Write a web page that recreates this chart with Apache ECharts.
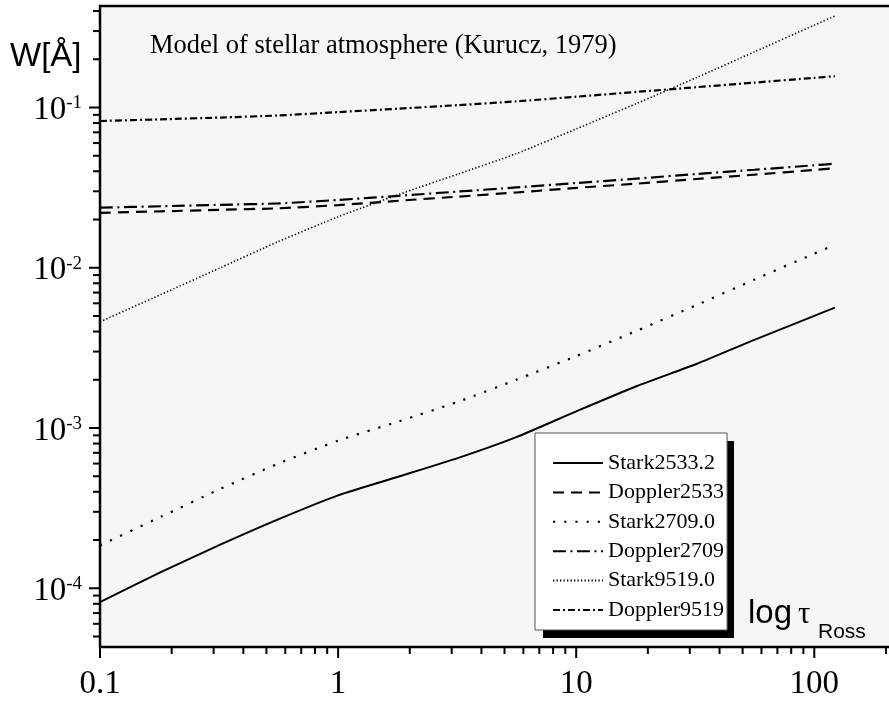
<!DOCTYPE html>
<html>
<head>
<meta charset="utf-8">
<script src="https://cdn.jsdelivr.net/npm/echarts@6/dist/echarts.min.js"></script>
<style>
html,body{margin:0;padding:0;background:#fff;}
#chart{width:889px;height:703px;}
</style>
</head>
<body>
<div id="chart"></div>
<script>
// ---- data ----
const X_VALUES = [0.1, 0.18, 0.32, 0.56, 1, 1.8, 3.2, 5.6, 10, 18, 32, 56, 100, 122];
const STARK_2533 = [8.2e-5, 1.26e-4, 1.87e-4, 2.69e-4, 3.8e-4, 4.98e-4, 6.51e-4, 8.77e-4, 1.27e-3, 1.83e-3, 2.51e-3, 3.55e-3, 5.01e-3, 5.64e-3];
const DOPPLER_2533 = [0.0220, 0.0225, 0.0230, 0.0235, 0.0246, 0.0262, 0.0278, 0.0295, 0.0315, 0.0335, 0.0358, 0.0381, 0.0408, 0.0418];
const STARK_2709 = [1.85e-4, 2.79e-4, 4.17e-4, 5.99e-4, 8.34e-4, 1.10e-3, 1.46e-3, 2.00e-3, 2.81e-3, 4.05e-3, 5.85e-3, 8.43e-3, 0.01225, 0.0139];
const DOPPLER_2709 = [0.0237, 0.0242, 0.0247, 0.0252, 0.0265, 0.0281, 0.0299, 0.0317, 0.0338, 0.0360, 0.0385, 0.0409, 0.0436, 0.0446];
const STARK_9519 = [0.0046, 0.0068, 0.0100, 0.01455, 0.0208, 0.0287, 0.0385, 0.0515, 0.0735, 0.1062, 0.1537, 0.2224, 0.3265, 0.372];
const DOPPLER_9519 = [0.0824, 0.0844, 0.0866, 0.0892, 0.0936, 0.0984, 0.1035, 0.1092, 0.1168, 0.1252, 0.1339, 0.1430, 0.1532, 0.1568];

const SERIES_NAMES = ['Stark2533.2', 'Doppler2533', 'Stark2709.0', 'Doppler2709', 'Stark9519.0', 'Doppler9519'];

const X_MIN = 0.1, X_MAX = 210;
const Y_MIN = 4.3e-5, Y_MAX = 0.43;
const X_MAJOR_TICKS = [0.1, 1, 10, 100];
const X_MINOR_TICKS = [0.2,0.3,0.4,0.5,0.6,0.7,0.8,0.9, 2,3,4,5,6,7,8,9, 20,30,40,50,60,70,80,90, 200];
const Y_MAJOR_TICKS = [1e-4, 1e-3, 1e-2, 1e-1];
const Y_MINOR_TICKS = [5e-5,6e-5,7e-5,8e-5,9e-5, 2e-4,3e-4,4e-4,5e-4,6e-4,7e-4,8e-4,9e-4,
  2e-3,3e-3,4e-3,5e-3,6e-3,7e-3,8e-3,9e-3, 2e-2,3e-2,4e-2,5e-2,6e-2,7e-2,8e-2,9e-2, 0.2,0.3,0.4];

// ---- helpers ----
function isPow10(v){ const l = Math.log10(v); return Math.abs(l - Math.round(l)) < 0.01; }
function pairs(ys){ return X_VALUES.map((x,i)=>[x, ys[i]]); }

function lineSeries(name, ys, dash, width){
  return {
    type:'line', name:name, data:pairs(ys), symbol:'none', showSymbol:false,
    smooth:0.2, animation:false, silent:true,
    lineStyle:{color:'#000', width:width, type:dash, cap:'butt'},
    itemStyle:{color:'#000', opacity:0}
  };
}
function tickSeries(values, axis, len){
  return {
    type:'custom', coordinateSystem:'cartesian2d', silent:true, clip:false, z:10, animation:false,
    data: values.map(v => axis === 'x' ? [v, Y_MIN] : [X_MIN, v]),
    renderItem: function(params, api){
      const p = api.coord([api.value(0), api.value(1)]);
      const shape = axis === 'x'
        ? {x1:p[0], y1:p[1], x2:p[0], y2:p[1] + len}
        : {x1:p[0], y1:p[1], x2:p[0] - len, y2:p[1]};
      return {type:'line', shape:shape, style:{stroke:'#000', lineWidth:2}};
    }
  };
}

const chart = echarts.init(document.getElementById('chart'), null, {renderer:'canvas'});
const option = {
  animation:false,
  backgroundColor:'#ffffff',
  grid:{left:100, top:6, width:791, height:641, show:true, backgroundColor:'#f6f6f6',
        borderColor:'#000', borderWidth:2.5, outerBoundsMode:'none', containLabel:false},
  xAxis:{
    type:'log', logBase:10, min:X_MIN, max:X_MAX,
    axisLine:{show:false}, axisTick:{show:false}, splitLine:{show:false}, minorTick:{show:false},
    axisLabel:{
      margin:21, color:'#000', fontFamily:'Liberation Serif', fontSize:33, lineHeight:33,
      formatter: v => isPow10(v) ? String(Number(v.toPrecision(1))) : ''
    }
  },
  yAxis:{
    type:'log', logBase:10, min:Y_MIN, max:Y_MAX,
    axisLine:{show:false}, axisTick:{show:false}, splitLine:{show:false}, minorTick:{show:false},
    axisLabel:{
      margin:18, padding:[6,0,0,0],
      formatter: v => isPow10(v) ? '{b|10}{s|' + Math.round(Math.log10(v)) + '}' : '',
      rich:{
        b:{fontFamily:'Liberation Serif', fontSize:33, lineHeight:33, color:'#000'},
        s:{fontFamily:'Liberation Serif', fontSize:19, lineHeight:14, color:'#000', verticalAlign:'top'}
      }
    }
  },
  legend:{
    orient:'vertical', left:535, top:433, data:SERIES_NAMES, selectedMode:false, z:5,
    padding:[19,3,9,17], itemWidth:50, itemHeight:14, itemGap:7.4,
    backgroundColor:'#ffffff', borderColor:'#555', borderWidth:1,
    itemStyle:{opacity:0, borderWidth:0},
    textStyle:{fontFamily:'Liberation Serif', fontSize:22, lineHeight:22, color:'#000'}
  },
  graphic:[
    {type:'rect', z:3, silent:true, shape:{x:543, y:441, width:191, height:197}, style:{fill:'#000'}},
    {type:'text', x:10, y:57, style:{text:'W[Å]', fontFamily:'Liberation Sans', fontSize:33, fill:'#000', align:'left', verticalAlign:'middle'}},
    {type:'text', x:150, y:46, style:{text:'Model of stellar atmosphere (Kurucz, 1979)', fontFamily:'Liberation Serif', fontSize:26.5, fill:'#000', align:'left', verticalAlign:'middle'}},
    {type:'text', x:748, y:613.6, style:{text:'log', fontFamily:'Liberation Sans', fontSize:33, fill:'#000', align:'left', verticalAlign:'middle'}},
    {type:'text', x:798, y:615, style:{text:'τ', fontFamily:'Liberation Serif', fontSize:31, fill:'#000', align:'left', verticalAlign:'middle'}},
    {type:'text', x:818, y:632, style:{text:'Ross', fontFamily:'Liberation Sans', fontSize:21, fill:'#000', align:'left', verticalAlign:'middle'}}
  ],
  series:[
    lineSeries(SERIES_NAMES[0], STARK_2533, 'solid', 2),
    lineSeries(SERIES_NAMES[1], DOPPLER_2533, [11,7], 2.2),
    lineSeries(SERIES_NAMES[2], STARK_2709, [2.2,9], 2.2),
    lineSeries(SERIES_NAMES[3], DOPPLER_2709, [13,4.5,2,4.5], 2.2),
    lineSeries(SERIES_NAMES[4], STARK_9519, [1.3,2.2], 1.6),
    lineSeries(SERIES_NAMES[5], DOPPLER_9519, [7,3,2,3], 2.2),
    tickSeries(X_MAJOR_TICKS, 'x', 11),
    tickSeries(X_MINOR_TICKS, 'x', 7),
    tickSeries(Y_MAJOR_TICKS, 'y', 11),
    tickSeries(Y_MINOR_TICKS, 'y', 7)
  ]
};
chart.setOption(option);
</script>
</body>
</html>
